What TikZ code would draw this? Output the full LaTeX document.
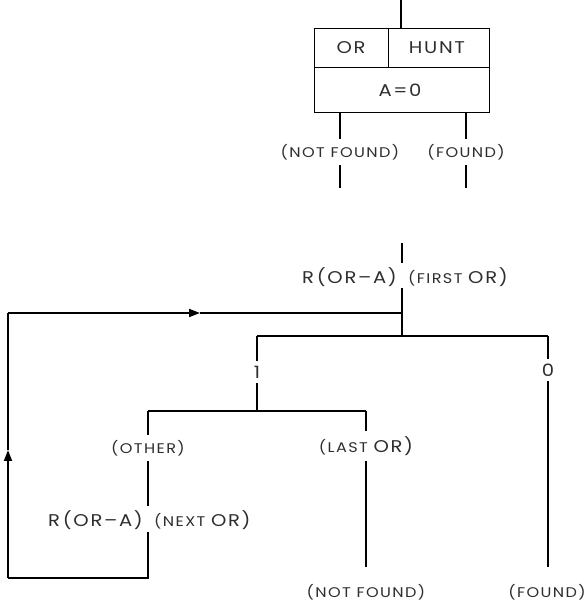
\documentclass[tikz,border=0pt]{standalone}
\usepackage{fontspec}
\setmainfont{Poppins}[LetterSpace=10,FakeStretch=1.15]
\usetikzlibrary{arrows.meta}
\newcommand\SCsize{\fontsize{14}{14}\selectfont}
\newcommand\CPsize{\fontsize{17}{17}\selectfont}
\tikzset{
  wire/.style={line width=1.7pt},
  boxline/.style={line width=1pt},
  txt/.style={text=black!82, inner xsep=0pt, inner ysep=5pt, font=\CPsize},
  sctxt/.style={text=black!82, inner xsep=0pt, inner ysep=5pt, font=\SCsize},
  tipup/.style={-{Triangle[length=11pt,width=8pt]}}
}
\begin{document}
\begin{tikzpicture}[x=1pt,y=1pt]
\useasboundingbox (0,0) rectangle (585,601);
% ---------- upper figure ----------
\coordinate (top0) at (401,601);
\node[draw, boxline, minimum width=175pt, minimum height=84pt, anchor=north west, inner sep=0pt] (box) at (314,573) {};
\coordinate (divL) at (314,533);
\coordinate (divR) at (489,533);
\coordinate (vdT) at (388,573);
\coordinate (vdB) at (388,533);
\draw[boxline] (divL) -- (divR);
\draw[boxline] (vdT) -- (vdB);
\node[txt] (lor) at (351,553) {OR};
\node[txt] (lhunt) at (437,553) {HUNT};
\node[txt] (la) at (400,511) {A=0};
\draw[wire] (top0) -- (top0 |- box.north);
\node[sctxt] (nf1) at (340,449) {(NOT FOUND)};
\node[sctxt] (f1) at (466,449) {(FOUND)};
\coordinate (nf1end) at (340,413);
\coordinate (f1end) at (466,413);
\draw[wire] (nf1.north |- box.south) -- (nf1.north);
\draw[wire] (f1.north |- box.south) -- (f1.north);
\draw[wire] (nf1.south) -- (nf1end);
\draw[wire] (f1.south) -- (f1end);
% ---------- lower figure ----------
\coordinate (m0) at (402,358);
\coordinate (m1) at (402,338);
\coordinate (m2) at (402,313);
\coordinate (j) at (402,288);
\coordinate (b) at (402,265);
\node[txt, anchor=east] (rfirst) at (397,324) {R\,(OR–A)};
\node[txt, anchor=west] (first) at (408,324) {\SCsize(FIRST \CPsize OR)};
\draw[wire] (m0) -- (m1);
\draw[wire] (m2) -- (b);
% branch
\coordinate (bl) at (257,265);
\coordinate (br) at (548,265);
\draw[wire] (bl) -- (br);
\node[txt] (one) at (257,229) {1};
\node[txt] (zero) at (548,231) {0};
\draw[wire] (bl) -- (one.north);
\draw[wire] (br) -- (zero.north);
% lower branch
\coordinate (lb) at (257,190);
\coordinate (lbl) at (148,190);
\coordinate (lbr) at (366,190);
\draw[wire] (one.south) -- (lb);
\draw[wire] (lbl) -- (lbr);
\node[sctxt] (other) at (148,153) {(OTHER)};
\node[txt] (lastor) at (366,155) {\SCsize(LAST \CPsize OR)};
\draw[wire] (lbl) -- (other.north);
\draw[wire] (lbr) -- (lastor.north);
% next OR
\coordinate (n1) at (148,95);
\coordinate (n2) at (148,69);
\node[txt, anchor=east] (rnext) at (143,81) {R\,(OR–A)};
\node[txt, anchor=west] (next) at (154,81) {\SCsize(NEXT \CPsize OR)};
\draw[wire] (other.south) -- (n1);
% ends
\node[sctxt] (nf2) at (366,9) {(NOT FOUND)};
\node[sctxt] (f2) at (547,9) {(FOUND)};
\draw[wire] (lastor.south) -- ([yshift=12pt]nf2.north);
\draw[wire] (zero.south) -- ([yshift=12pt]f2.north -| zero.south);
% loop
\coordinate (lc1) at (148,23);
\coordinate (lc2) at (8,23);
\coordinate (lup) at (8,151);
\coordinate (lc3) at (8,288);
\coordinate (lright) at (200,288);
\draw[wire] (n2) -- (lc1) -- (lc2);
\draw[wire, tipup] (lc2) -- (lup);
\draw[wire] (lup) -- (lc3);
\draw[wire, tipup] (lc3) -- (lright);
\draw[wire] (lright) -- (j);
\end{tikzpicture}
\end{document}
